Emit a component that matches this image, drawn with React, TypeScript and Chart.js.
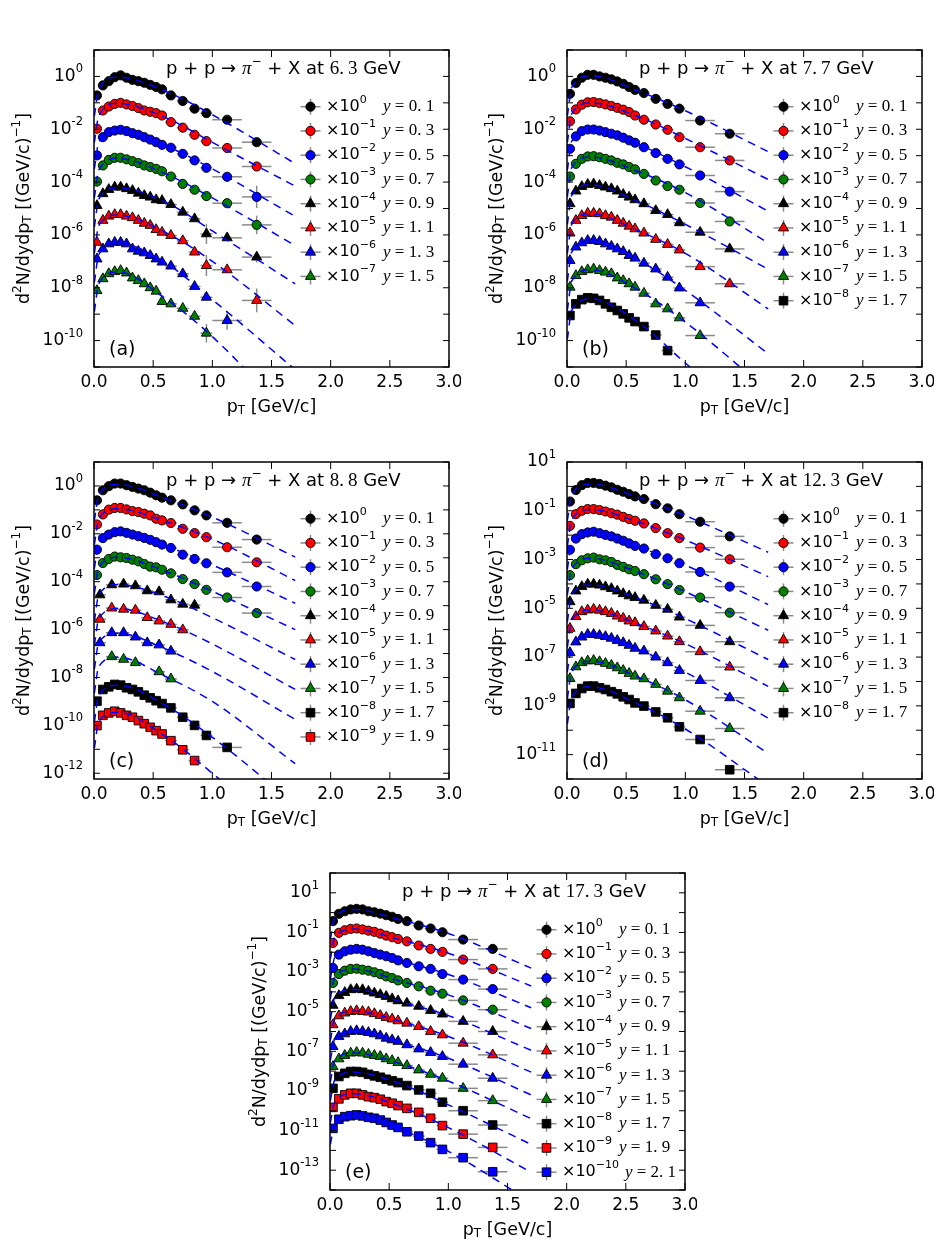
import React, { useEffect, useRef } from 'react';
import { Chart, registerables } from 'chart.js';

Chart.register(...registerables);

const SANS = '"DejaVu Sans", "Liberation Sans", sans-serif';
const SERIF = '"Liberation Serif", "DejaVu Serif", serif';

// pT bin centres and half widths [GeV/c]
const PT = [0.025, 0.075, 0.125, 0.175, 0.225, 0.275, 0.325, 0.375, 0.425, 0.475, 0.525, 0.575, 0.65, 0.75, 0.85, 0.95, 1.125, 1.375];
const PT_HALF = [0.025, 0.025, 0.025, 0.025, 0.025, 0.025, 0.025, 0.025, 0.025, 0.025, 0.025, 0.025, 0.05, 0.05, 0.05, 0.05, 0.125, 0.125];
// coarser binning used for some rapidities at 8.8 GeV
const PT_C = [0.05, 0.15, 0.25, 0.35, 0.45, 0.55, 0.65, 0.75, 0.85];
const PT_C_HALF = [0.05, 0.05, 0.05, 0.05, 0.05, 0.05, 0.05, 0.05, 0.05];
// pT knots of the fit curves
const FIT_PT = [0.003, 0.04, 0.2, 0.6, 1.0, 1.7];
const X_TICKS = [0, 0.5, 1, 1.5, 2, 2.5, 3];
const RAPIDITY = ['0.1', '0.3', '0.5', '0.7', '0.9', '1.1', '1.3', '1.5', '1.7', '1.9', '2.1'];

// values are log10 of the scaled d2N/dydpT
// (a) 6.3 GeV
const a01 = [-0.72, -0.34, -0.18, -0.03, 0.04, -0.05, -0.13, -0.18, -0.24, -0.32, -0.40, -0.49, -0.72, -0.93, -1.22, -1.39, -1.64, -2.49];
const a03 = [-1.98, -1.29, -1.14, -1.04, -1.00, -1.06, -1.12, -1.20, -1.29, -1.34, -1.39, -1.48, -1.73, -1.94, -2.21, -2.45, -2.71, -3.41];
const a05 = [-2.99, -2.30, -2.11, -2.05, -2.02, -2.07, -2.15, -2.21, -2.30, -2.39, -2.49, -2.59, -2.70, -2.93, -3.18, -3.46, -3.80, -4.56];
const a07 = [-3.98, -3.37, -3.16, -3.08, -3.08, -3.14, -3.21, -3.28, -3.37, -3.43, -3.50, -3.59, -3.79, -4.07, -4.29, -4.53, -4.80, -5.62];
const a09 = [-4.89, -4.44, -4.28, -4.19, -4.19, -4.25, -4.32, -4.42, -4.51, -4.57, -4.67, -4.70, -4.85, -5.14, -5.39, -5.96, -6.11, -6.84];
const a11 = [-6.28, -5.45, -5.29, -5.23, -5.23, -5.29, -5.35, -5.45, -5.56, -5.64, -5.80, -5.90, -6.02, -6.22, -6.65, -7.16, -7.32, -8.48];
const a13 = [-6.91, -6.53, -6.34, -6.28, -6.28, -6.34, -6.53, -6.62, -6.68, -6.78, -6.91, -7.03, -7.18, -7.47, -7.95, -8.36, -9.24];
const a15 = [-8.11, -7.66, -7.47, -7.39, -7.35, -7.44, -7.63, -7.73, -7.85, -8.00, -8.13, -8.52, -8.61, -8.78, -9.08, -9.72];
const a01F = [-1.5, -0.5, -0.02, -0.55, -1.45, -3.3];
const a03F = [-2.5, -1.5, -1.02, -1.55, -2.5, -4.15];
const a05F = [-3.5, -2.5, -2.05, -2.62, -3.5, -5.3];
const a07F = [-4.6, -3.55, -3.1, -3.68, -4.6, -6.4];
const a09F = [-5.7, -4.65, -4.22, -4.75, -5.85, -7.85];
const a11F = [-6.7, -5.65, -5.25, -5.9, -7.0, -9.43];
const a13F = [-7.8, -6.75, -6.3, -7.05, -8.45, -11.1];
const a15F = [-8.9, -7.85, -7.4, -8.4, -9.85, -13.1];
// [series, point, half length in decades]
const aErr: [number, number, number][] = [[2, 17, 0.42], [3, 17, 0.35], [4, 15, 0.38], [4, 17, 0.2], [5, 15, 0.4], [5, 17, 0.45], [6, 16, 0.35], [7, 15, 0.35]];

// (b) 7.7 GeV
const b01 = [-0.66, -0.25, -0.05, 0.06, 0.06, 0.00, -0.05, -0.11, -0.19, -0.28, -0.40, -0.51, -0.63, -0.85, -1.04, -1.22, -1.67, -2.17];
const b03 = [-1.70, -1.25, -1.07, -0.98, -0.97, -1.01, -1.06, -1.12, -1.19, -1.26, -1.35, -1.48, -1.64, -1.82, -2.02, -2.30, -2.68, -3.18];
const b05 = [-2.74, -2.27, -2.07, -2.01, -2.01, -2.05, -2.11, -2.17, -2.23, -2.32, -2.42, -2.51, -2.68, -2.90, -3.12, -3.33, -3.75, -4.36];
const b07 = [-3.79, -3.31, -3.12, -3.03, -3.02, -3.06, -3.12, -3.18, -3.27, -3.33, -3.43, -3.52, -3.69, -3.94, -4.15, -4.29, -4.79, -5.49];
const b09 = [-4.82, -4.34, -4.17, -4.09, -4.07, -4.13, -4.19, -4.25, -4.34, -4.47, -4.57, -4.67, -4.82, -5.08, -5.23, -5.54, -5.90, -6.53];
const b11 = [-5.93, -5.45, -5.27, -5.18, -5.18, -5.20, -5.27, -5.33, -5.45, -5.56, -5.67, -5.77, -5.93, -6.17, -6.36, -6.57, -7.20, -7.85];
const b13 = [-6.97, -6.46, -6.30, -6.21, -6.21, -6.25, -6.34, -6.43, -6.53, -6.63, -6.78, -6.88, -7.07, -7.29, -7.60, -8.01, -8.57];
const b15 = [-7.98, -7.54, -7.39, -7.32, -7.29, -7.35, -7.41, -7.47, -7.63, -7.73, -7.85, -7.98, -8.21, -8.61, -8.80, -9.14, -9.81];
const b17 = [-9.05, -8.61, -8.45, -8.38, -8.40, -8.48, -8.61, -8.74, -8.86, -8.99, -9.14, -9.28, -9.47, -9.79, -10.38];
const b01F = [-1.5, -0.42, 0.03, -0.55, -1.3, -2.85];
const b03F = [-2.5, -1.42, -1.0, -1.52, -2.35, -3.9];
const b05F = [-3.55, -2.45, -2.03, -2.58, -3.42, -5.1];
const b07F = [-4.55, -3.45, -3.05, -3.6, -4.4, -6.3];
const b09F = [-5.6, -4.5, -4.1, -4.74, -5.6, -7.3];
const b11F = [-6.7, -5.6, -5.2, -5.84, -6.7, -8.8];
const b13F = [-7.75, -6.65, -6.25, -6.95, -8.1, -10.5];
const b15F = [-8.85, -7.75, -7.32, -8.08, -9.3, -11.9];
const b17F = [-9.95, -8.85, -8.42, -9.3, -10.85, -13.5];

// (c) 8.8 GeV
const c01 = [-0.60, -0.18, -0.01, 0.10, 0.10, 0.03, -0.04, -0.11, -0.18, -0.28, -0.39, -0.49, -0.60, -0.77, -1.02, -1.23, -1.54, -2.24];
const c03 = [-1.61, -1.19, -0.99, -0.92, -0.92, -0.98, -1.05, -1.09, -1.16, -1.23, -1.37, -1.44, -1.55, -1.79, -1.97, -2.14, -2.56, -3.19];
const c05 = [-2.66, -2.18, -2.03, -1.93, -1.90, -1.96, -2.03, -2.10, -2.17, -2.25, -2.35, -2.45, -2.59, -2.87, -3.05, -3.23, -3.61, -4.20];
const c07 = [-3.72, -3.22, -3.05, -2.95, -2.98, -3.01, -3.08, -3.15, -3.26, -3.37, -3.40, -3.50, -3.65, -3.89, -4.10, -4.34, -4.66, -5.31];
const c09 = [-4.55, -4.13, -4.10, -4.17, -4.38, -4.42, -4.76, -4.94, -4.98];
const c11 = [-5.57, -5.10, -5.15, -5.19, -5.50, -5.64, -5.78, -6.01];
const c13 = [-6.55, -6.13, -6.13, -6.31, -6.55, -6.64, -6.90];
const c15 = [null, -7.13, -7.24, -7.38, null, -7.76, -8.06];
const c17 = [-8.99, -8.50, -8.39, -8.29, -8.32, -8.43, -8.50, -8.60, -8.74, -8.85, -8.97, -9.09, -9.27, -9.66, -10.00, -10.42, -10.92];
const c19 = [-10.01, -9.58, -9.48, -9.41, -9.48, -9.58, -9.66, -9.80, -9.93, -10.08, -10.22, -10.36, -10.64, -11.02, -11.47];
const c01F = [-1.45, -0.38, 0.07, -0.52, -1.3, -2.97];
const c03F = [-2.45, -1.38, -0.95, -1.48, -2.22, -3.95];
const c05F = [-3.45, -2.35, -1.93, -2.5, -3.3, -4.9];
const c07F = [-4.5, -3.4, -2.98, -3.56, -4.4, -6.0];
const c09F = [-5.65, -4.55, -4.12, -4.62, -5.5, -7.25];
const c11F = [-6.65, -5.55, -5.12, -5.7, -6.6, -8.5];
const c13F = [-7.65, -6.55, -6.15, -6.8, -7.75, -9.75];
const c15F = [-8.65, -7.55, -7.15, -7.95, -9.0, -11.6];
const c17F = [-9.85, -8.75, -8.32, -9.15, -10.5, -13.3];
const c19F = [-10.95, -9.85, -9.45, -10.45, -12.0, -15.0];

// (d) 12.3 GeV
const d01 = [-0.62, -0.15, 0.05, 0.14, 0.14, 0.10, 0.03, -0.04, -0.14, -0.22, -0.32, -0.41, -0.52, -0.73, -0.90, -1.14, -1.45, -2.05];
const d03 = [-1.62, -1.14, -1.00, -0.93, -0.93, -0.97, -1.03, -1.10, -1.16, -1.25, -1.34, -1.41, -1.52, -1.71, -1.92, -2.12, -2.51, -2.99];
const d05 = [-2.60, -2.14, -1.96, -1.89, -1.86, -1.92, -1.99, -2.05, -2.14, -2.23, -2.34, -2.44, -2.55, -2.78, -2.95, -3.15, -3.51, -4.11];
const d07 = [-3.64, -3.19, -3.03, -2.95, -2.92, -2.99, -3.03, -3.10, -3.22, -3.30, -3.40, -3.47, -3.60, -3.81, -4.01, -4.25, -4.56, -5.18];
const d09 = [-4.73, -4.29, -4.11, -4.01, -4.01, -4.05, -4.12, -4.19, -4.29, -4.40, -4.49, -4.56, -4.67, -4.88, -5.04, -5.36, -5.70, -6.37];
const d11 = [-5.82, -5.34, -5.14, -5.07, -5.04, -5.08, -5.14, -5.21, -5.32, -5.41, -5.52, -5.59, -5.75, -5.93, -6.14, -6.37, -6.78, -7.41];
const d13 = [-6.82, -6.38, -6.18, -6.07, -6.07, -6.11, -6.16, -6.23, -6.32, -6.41, -6.52, -6.64, -6.75, -7.00, -7.23, -7.55, -7.96, -8.67];
const d15 = [-7.88, -7.40, -7.23, -7.16, -7.14, -7.19, -7.26, -7.34, -7.44, -7.55, -7.67, -7.78, -7.89, -8.12, -8.40, -8.67, -9.22, -9.93];
const d17 = [-8.90, -8.49, -8.29, -8.19, -8.19, -8.26, -8.33, -8.42, -8.51, -8.63, -8.74, -8.88, -9.01, -9.25, -9.49, -9.86, -10.38, -11.62];
const d01F = [-1.4, -0.33, 0.1, -0.45, -1.2, -2.7];
const d03F = [-2.45, -1.37, -0.95, -1.46, -2.2, -3.7];
const d05F = [-3.4, -2.32, -1.9, -2.48, -3.23, -4.85];
const d07F = [-4.45, -3.37, -2.95, -3.52, -4.32, -5.9];
const d09F = [-5.55, -4.45, -4.04, -4.6, -5.42, -7.1];
const d11F = [-6.6, -5.5, -5.07, -5.65, -6.45, -8.2];
const d13F = [-7.6, -6.52, -6.1, -6.68, -7.62, -9.5];
const d15F = [-8.7, -7.6, -7.17, -7.82, -8.75, -10.95];
const d17F = [-9.75, -8.65, -8.22, -8.92, -9.95, -12.3];

// (e) 17.3 GeV
const e01 = [-0.43, -0.06, 0.07, 0.16, 0.19, 0.16, 0.07, 0.02, -0.05, -0.13, -0.21, -0.32, -0.43, -0.65, -0.80, -0.99, -1.36, -1.83];
const e03 = [-1.53, -1.02, -0.89, -0.82, -0.80, -0.85, -0.91, -0.97, -1.06, -1.16, -1.24, -1.33, -1.45, -1.66, -1.83, -1.98, -2.37, -2.84];
const e05 = [-2.79, -2.12, -1.95, -1.87, -1.83, -1.87, -1.95, -2.04, -2.12, -2.20, -2.29, -2.41, -2.54, -2.71, -2.84, -3.10, -3.38, -3.86];
const e07 = [-3.55, -3.10, -2.93, -2.84, -2.83, -2.88, -2.93, -3.01, -3.10, -3.22, -3.30, -3.42, -3.55, -3.72, -3.94, -4.09, -4.43, -4.90];
const e09 = [-4.68, -4.19, -4.03, -3.89, -3.86, -3.89, -3.97, -4.06, -4.14, -4.23, -4.35, -4.45, -4.57, -4.73, -4.94, -5.12, -5.49, -6.00];
const e11 = [-5.66, -5.21, -5.07, -4.99, -4.95, -4.99, -5.02, -5.10, -5.19, -5.29, -5.37, -5.46, -5.58, -5.75, -6.00, -6.17, -6.59, -7.18];
const e13 = [-6.76, -6.25, -6.12, -6.00, -5.96, -6.00, -6.05, -6.12, -6.22, -6.34, -6.42, -6.50, -6.67, -6.88, -7.06, -7.26, -7.65, -8.36];
const e15 = [-7.77, -7.38, -7.21, -7.09, -7.06, -7.09, -7.15, -7.21, -7.26, -7.38, -7.47, -7.57, -7.72, -7.94, -8.16, -8.36, -8.87, -9.49];
const e17 = [-8.87, -8.27, -8.11, -8.02, -8.02, -8.06, -8.16, -8.24, -8.31, -8.41, -8.49, -8.58, -8.73, -8.95, -9.12, -9.57, -10.00, -10.72];
const e19 = [-9.83, -9.40, -9.20, -9.12, -9.12, -9.20, -9.29, -9.34, -9.42, -9.54, -9.62, -9.74, -9.88, -10.08, -10.38, -10.75, -11.18, -11.85];
const e21 = [-10.89, -10.43, -10.30, -10.25, -10.21, -10.26, -10.33, -10.38, -10.47, -10.59, -10.72, -10.84, -11.06, -11.28, -11.61, -11.95, -12.37, -13.08];
const e01F = [-1.35, -0.28, 0.16, -0.37, -1.05, -2.8];
const e03F = [-2.35, -1.25, -0.83, -1.38, -2.05, -3.7];
const e05F = [-3.35, -2.27, -1.86, -2.45, -3.12, -4.8];
const e07F = [-4.35, -3.25, -2.85, -3.47, -4.15, -5.85];
const e09F = [-5.4, -4.3, -3.88, -4.5, -5.2, -6.95];
const e11F = [-6.45, -5.38, -4.97, -5.5, -6.25, -8.05];
const e13F = [-7.45, -6.38, -5.98, -6.58, -7.35, -9.2];
const e15F = [-8.55, -7.48, -7.08, -7.64, -8.5, -10.4];
const e17F = [-9.5, -8.45, -8.05, -8.65, -9.7, -11.7];
const e19F = [-10.6, -9.55, -9.14, -9.8, -10.85, -13.1];
const e21F = [-11.7, -10.65, -10.24, -10.95, -12.05, -14.6];

type Shape = 'circle' | 'triangle' | 'rect';
const COLORS = ['#000000', '#ff0000', '#0000ff', '#008000'];
const SHAPES: Shape[] = ['circle', 'triangle', 'rect'];
const RADIUS: Record<Shape, number> = { circle: 4.6, triangle: 5.9, rect: 6.1 };

interface Panel {
  letter: string;
  energy: string;
  left: number;
  top: number;
  yMin: number;
  yMax: number;
  labels: number[];
  vals: (number | null)[][];
  fits: number[][];
  xs: number[][];
  half: number[][];
  errs: [number, number, number][];
}

const W = 355;
const H = 317;
const PAD_L = 94;
const PAD_T = 50;
const PAD_R = 12;
const PAD_B = 60;

const std = (n: number) => Array.from({ length: n }, () => PT);
const stdHalf = (n: number) => Array.from({ length: n }, () => PT_HALF);

const PANELS: Panel[] = [
  {
    letter: 'a', energy: '6.3', left: 94, top: 50, yMin: -11, yMax: 1,
    labels: [0, -2, -4, -6, -8, -10],
    vals: [a01, a03, a05, a07, a09, a11, a13, a15],
    fits: [a01F, a03F, a05F, a07F, a09F, a11F, a13F, a15F],
    xs: std(8), half: stdHalf(8), errs: aErr,
  },
  {
    letter: 'b', energy: '7.7', left: 566.7, top: 50, yMin: -11, yMax: 1,
    labels: [0, -2, -4, -6, -8, -10],
    vals: [b01, b03, b05, b07, b09, b11, b13, b15, b17],
    fits: [b01F, b03F, b05F, b07F, b09F, b11F, b13F, b15F, b17F],
    xs: std(9), half: stdHalf(9), errs: [],
  },
  {
    letter: 'c', energy: '8.8', left: 94, top: 461.7, yMin: -12.24, yMax: 1,
    labels: [0, -2, -4, -6, -8, -10, -12],
    vals: [c01, c03, c05, c07, c09, c11, c13, c15, c17, c19],
    fits: [c01F, c03F, c05F, c07F, c09F, c11F, c13F, c15F, c17F, c19F],
    xs: [PT, PT, PT, PT, PT_C, PT_C, PT_C, PT_C, PT, PT],
    half: [PT_HALF, PT_HALF, PT_HALF, PT_HALF, PT_C_HALF, PT_C_HALF, PT_C_HALF, PT_C_HALF, PT_HALF, PT_HALF],
    errs: [],
  },
  {
    letter: 'd', energy: '12.3', left: 566.7, top: 461.7, yMin: -12, yMax: 1,
    labels: [1, -1, -3, -5, -7, -9, -11],
    vals: [d01, d03, d05, d07, d09, d11, d13, d15, d17],
    fits: [d01F, d03F, d05F, d07F, d09F, d11F, d13F, d15F, d17F],
    xs: std(9), half: stdHalf(9), errs: [],
  },
  {
    letter: 'e', energy: '17.3', left: 330, top: 873.3, yMin: -14, yMax: 2,
    labels: [1, -1, -3, -5, -7, -9, -11, -13],
    vals: [e01, e03, e05, e07, e09, e11, e13, e15, e17, e19, e21],
    fits: [e01F, e03F, e05F, e07F, e09F, e11F, e13F, e15F, e17F, e19F, e21F],
    xs: std(11), half: stdHalf(11), errs: [],
  },
];

type Run = { t: string; f: string; dy?: number };

function runsWidth(ctx: CanvasRenderingContext2D, runs: Run[]) {
  let w = 0;
  for (const r of runs) {
    ctx.font = r.f;
    w += ctx.measureText(r.t).width;
  }
  return w;
}

function drawRuns(ctx: CanvasRenderingContext2D, runs: Run[], x: number, y: number) {
  let cx = x;
  for (const r of runs) {
    ctx.font = r.f;
    ctx.fillText(r.t, cx, y + (r.dy || 0));
    cx += ctx.measureText(r.t).width;
  }
  return cx;
}

function drawMarker(ctx: CanvasRenderingContext2D, shape: Shape, x: number, y: number, fill: string) {
  const r = RADIUS[shape];
  ctx.beginPath();
  if (shape === 'circle') {
    ctx.arc(x, y, r, 0, Math.PI * 2);
  } else if (shape === 'triangle') {
    ctx.moveTo(x, y - r);
    ctx.lineTo(x + r * 0.866, y + r * 0.5);
    ctx.lineTo(x - r * 0.866, y + r * 0.5);
    ctx.closePath();
  } else {
    const h = r * Math.SQRT1_2;
    ctx.rect(x - h, y - h, 2 * h, 2 * h);
  }
  ctx.fillStyle = fill;
  ctx.fill();
  ctx.strokeStyle = '#000';
  ctx.lineWidth = 0.9;
  ctx.stroke();
}

function line(ctx: CanvasRenderingContext2D, x1: number, y1: number, x2: number, y2: number) {
  ctx.beginPath();
  ctx.moveTo(x1, y1);
  ctx.lineTo(x2, y2);
  ctx.stroke();
}

const minusSign = (n: number) => String(n).replace('-', '\u2212');

function makePlugin(p: Panel) {
  return {
    id: 'panel_' + p.letter,
    beforeDatasetsDraw(chart: any) {
      const { ctx, chartArea: a, scales } = chart;
      const x = scales.x;
      const y = scales.y;
      ctx.save();
      ctx.beginPath();
      ctx.rect(a.left, a.top, a.right - a.left, a.bottom - a.top);
      ctx.clip();
      ctx.strokeStyle = '#8a8a8a';
      ctx.lineWidth = 1.5;
      p.vals.forEach((vals, i) => {
        vals.forEach((v, j) => {
          if (v == null) return;
          const py = y.getPixelForValue(10 ** v);
          const xv = p.xs[i][j];
          const hw = p.half[i][j];
          line(ctx, x.getPixelForValue(xv - hw), py, x.getPixelForValue(xv + hw), py);
        });
      });
      p.errs.forEach(([i, j, d]) => {
        const v = p.vals[i][j];
        if (v == null) return;
        const px = x.getPixelForValue(p.xs[i][j]);
        line(ctx, px, y.getPixelForValue(10 ** (v + d)), px, y.getPixelForValue(10 ** (v - d)));
      });
      ctx.restore();
    },
    afterDraw(chart: any) {
      const { ctx, chartArea: a, scales } = chart;
      const x = scales.x;
      const y = scales.y;
      const L = a.left;
      const R = a.right;
      const T = a.top;
      const B = a.bottom;
      ctx.save();

      // ticks (inward, on all four sides)
      ctx.strokeStyle = '#000';
      ctx.lineWidth = 1;
      for (const v of X_TICKS) {
        const px = x.getPixelForValue(v);
        line(ctx, px, B, px, B - 7);
        line(ctx, px, T, px, T + 7);
      }
      for (let e = Math.ceil(p.yMin); e <= Math.floor(p.yMax); e++) {
        const py = y.getPixelForValue(10 ** e);
        line(ctx, L, py, L + 6, py);
        line(ctx, R, py, R - 6, py);
      }
      ctx.lineWidth = 1.5;
      ctx.strokeRect(L, T, R - L, B - T);

      ctx.fillStyle = '#000';
      ctx.textBaseline = 'middle';

      // x tick labels
      ctx.textAlign = 'center';
      ctx.font = `17px ${SANS}`;
      for (const v of X_TICKS) ctx.fillText(v.toFixed(1), x.getPixelForValue(v), B + 16);
      ctx.textAlign = 'left';

      // y tick labels
      for (const e of p.labels) {
        const runs: Run[] = [
          { t: '10', f: `17px ${SANS}` },
          { t: String(e), f: `11.5px ${SANS}`, dy: -7 },
        ];
        const w = runsWidth(ctx, runs);
        drawRuns(ctx, runs, L - 11 - w, y.getPixelForValue(10 ** e));
      }

      // x axis title
      const xt: Run[] = [
        { t: 'p', f: `17.5px ${SANS}` },
        { t: 'T', f: `12px ${SANS}`, dy: 4 },
        { t: ' [GeV/c]', f: `17.5px ${SANS}` },
      ];
      drawRuns(ctx, xt, (L + R) / 2 - runsWidth(ctx, xt) / 2, B + 40);

      // y axis title
      const yt: Run[] = [
        { t: 'd', f: `17.5px ${SANS}` },
        { t: '2', f: `12px ${SANS}`, dy: -6 },
        { t: 'N/dydp', f: `17.5px ${SANS}` },
        { t: 'T', f: `12px ${SANS}`, dy: 4 },
        { t: ' [(GeV/c)', f: `17.5px ${SANS}` },
        { t: '\u22121', f: `12px ${SANS}`, dy: -7 },
        { t: ']', f: `17.5px ${SANS}` },
      ];
      ctx.save();
      ctx.translate(L - 70, (T + B) / 2);
      ctx.rotate(-Math.PI / 2);
      drawRuns(ctx, yt, -runsWidth(ctx, yt) / 2, 0);
      ctx.restore();

      // title
      const [e1, e2] = p.energy.split('.');
      const title: Run[] = [
        { t: 'p + p \u2192 ', f: `18px ${SANS}` },
        { t: '\u03c0', f: `italic 19px ${SERIF}` },
        { t: '\u2212', f: `12px ${SANS}`, dy: -7 },
        { t: ' + X at ', f: `18px ${SANS}` },
        { t: `${e1}.\u2009${e2}`, f: `19px ${SERIF}` },
        { t: ' GeV', f: `18px ${SANS}` },
      ];
      drawRuns(ctx, title, L + 72, T + 19);

      // panel letter
      ctx.font = `19px ${SANS}`;
      ctx.fillText(`(${p.letter})`, L + 15, B - 17);

      // legend
      p.vals.forEach((_, i) => {
        const my = T + 56.7 + i * 24.25;
        const mx = L + 216.5;
        ctx.strokeStyle = '#8a8a8a';
        ctx.lineWidth = 1.5;
        line(ctx, mx - 10, my, mx + 10, my);
        line(ctx, mx, my - 8, mx, my + 8);
        drawMarker(ctx, SHAPES[Math.floor(i / 4)], mx, my, COLORS[i % 4]);
        ctx.fillStyle = '#000';
        const end = drawRuns(ctx, [
          { t: '\u00d7', f: `16px ${SANS}` },
          { t: '10', f: `16px ${SANS}` },
          { t: minusSign(-i), f: `11px ${SANS}`, dy: -7 },
        ], L + 232, my);
        const r = RAPIDITY[i];
        drawRuns(ctx, [
          { t: 'y', f: `italic 17px ${SERIF}` },
          { t: ' = ', f: `17px ${SERIF}` },
          { t: `${r[0]}. ${r[2]}`, f: `17px ${SERIF}` },
        ], Math.max(L + 289, end + 6), my);
      });

      ctx.restore();
    },
  };
}

function PanelChart({ p }: { p: Panel }) {
  const canvasRef = useRef<HTMLCanvasElement>(null);

  useEffect(() => {
    const canvas = canvasRef.current;
    if (!canvas) return;
    const datasets: any[] = [];
    p.vals.forEach((vals, i) => {
      const shape = SHAPES[Math.floor(i / 4)];
      datasets.push({
        type: 'line',
        data: FIT_PT.map((xv, j) => ({ x: xv, y: 10 ** p.fits[i][j] })),
        showLine: true,
        borderColor: '#0000ff',
        borderWidth: 1.5,
        borderDash: [8, 6],
        pointRadius: 0,
        fill: false,
        cubicInterpolationMode: 'monotone',
        clip: 0,
        order: 1,
      });
      datasets.push({
        type: 'scatter',
        data: vals
          .map((v, j) => (v == null ? null : { x: p.xs[i][j], y: 10 ** v }))
          .filter((d) => d !== null),
        showLine: false,
        pointStyle: shape,
        pointRadius: RADIUS[shape],
        pointBackgroundColor: COLORS[i % 4],
        pointBorderColor: '#000000',
        pointBorderWidth: 0.9,
        order: 2,
      });
    });

    const chart = new Chart(canvas, {
      type: 'scatter',
      data: { datasets },
      options: {
        animation: false,
        responsive: false,
        events: [],
        layout: { padding: { left: PAD_L, top: PAD_T, right: PAD_R, bottom: PAD_B } },
        scales: {
          x: { type: 'linear', min: 0, max: 3, display: false },
          y: { type: 'logarithmic', min: 10 ** p.yMin, max: 10 ** p.yMax, display: false },
        },
        plugins: { legend: { display: false }, tooltip: { enabled: false } },
      } as any,
      plugins: [makePlugin(p)],
    });
    return () => {
      chart.destroy();
    };
  }, [p]);

  return (
    <canvas
      ref={canvasRef}
      width={PAD_L + W + PAD_R}
      height={PAD_T + H + PAD_B}
      style={{ position: 'absolute', left: p.left - PAD_L, top: p.top - PAD_T }}
    />
  );
}

const App = (): JSX.Element => {
  return (
    <div
      style={{
        position: 'absolute',
        left: 0,
        top: 0,
        width: 940,
        height: 1253,
        overflow: 'hidden',
        background: '#ffffff',
      }}
    >
      {PANELS.map((p) => (
        <PanelChart key={p.letter} p={p} />
      ))}
    </div>
  );
};

export default App;
